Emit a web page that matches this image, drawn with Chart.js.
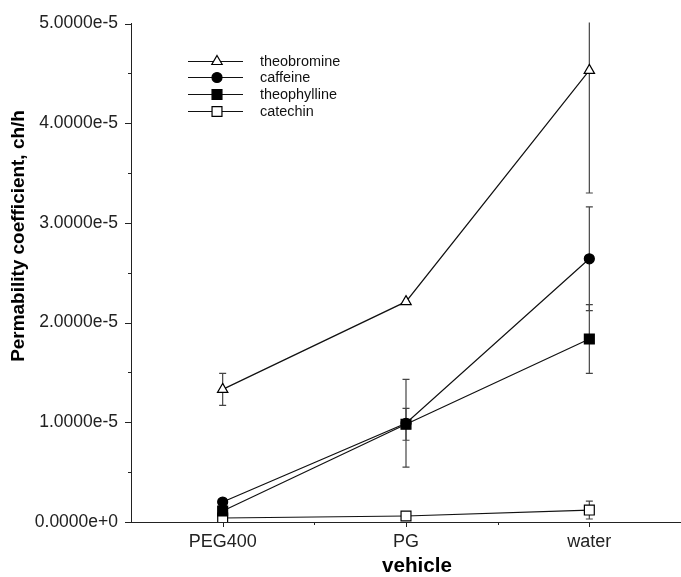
<!DOCTYPE html>
<html>
<head>
<meta charset="utf-8">
<script src="https://cdn.jsdelivr.net/npm/chart.js@4.4.1/dist/chart.umd.min.js"></script>
<style>
  html, body { margin: 0; padding: 0; background: #fff; }
  #wrap { width: 681px; height: 577px; position: relative; }
</style>
</head>
<body>
<div id="wrap"><canvas id="c" width="681" height="577"></canvas></div>
<script>
// ---- data ----
const categories = ['PEG400', 'PG', 'water'];
const theobromine     = [1.33e-5, 2.21e-5, 4.53e-5];
const theobromineErr  = [0.16e-5, 0, 1.23e-5];
const caffeine        = [0.20e-5, 0.99e-5, 2.64e-5];
const caffeineErr     = [0, 0.44e-5, 0.52e-5];
const theophylline    = [0.11e-5, 0.98e-5, 1.835e-5];
const theophyllineErr = [0, 0.16e-5, 0.345e-5];
const catechin        = [0.04e-5, 0.06e-5, 0.12e-5];
const catechinErr     = [0, 0, 0.09e-5];
const yTicks = [0, 1e-5, 2e-5, 3e-5, 4e-5, 5e-5];
const seriesNames = ['theobromine', 'caffeine', 'theophylline', 'catechin'];

const FONT = '"Liberation Sans", Arial, sans-serif';

const styles = [
  { pointStyle: 'triangle', radius: 6, fill: '#fff' },
  { pointStyle: 'circle',   radius: 5, fill: '#000' },
  { pointStyle: 'rect',     radius: 7, fill: '#000' },
  { pointStyle: 'rect',     radius: 7, fill: '#fff' }
];
const values = [theobromine, caffeine, theophylline, catechin];
const errors = [theobromineErr, caffeineErr, theophyllineErr, catechinErr];

const datasets = seriesNames.map((n, i) => ({
  label: n,
  data: values[i],
  borderColor: '#111',
  borderWidth: 1.2,
  pointStyle: styles[i].pointStyle,
  pointRadius: styles[i].radius,
  pointHoverRadius: styles[i].radius,
  pointBackgroundColor: styles[i].fill,
  pointBorderColor: '#000',
  pointBorderWidth: 1.2,
  tension: 0,
  fill: false,
  errors: errors[i]
}));

// pick a font size so that the text spans the width seen in the reference
function fitFont(ctx, text, target, weight) {
  ctx.font = weight + ' 20px ' + FONT;
  const w = ctx.measureText(text).width;
  const size = 20 * target / w;
  return weight + ' ' + size.toFixed(2) + 'px ' + FONT;
}

const errorBars = {
  id: 'errorBars',
  beforeDatasetsDraw(chart) {
    const ctx = chart.ctx, x = chart.scales.x, y = chart.scales.y, ca = chart.chartArea;
    ctx.save();
    ctx.beginPath();
    ctx.rect(ca.left, ca.top - 1, ca.right - ca.left, ca.bottom - ca.top + 2);
    ctx.clip();
    ctx.strokeStyle = '#444';
    ctx.lineWidth = 1.2;
    chart.data.datasets.forEach(ds => {
      ds.data.forEach((v, j) => {
        const e = ds.errors[j];
        if (!e) return;
        const px = x.getPixelForValue(j);
        const top = y.getPixelForValue(v + e), bot = y.getPixelForValue(v - e);
        ctx.beginPath();
        ctx.moveTo(px, top); ctx.lineTo(px, bot);
        ctx.moveTo(px - 3.5, top); ctx.lineTo(px + 3.5, top);
        ctx.moveTo(px - 3.5, bot); ctx.lineTo(px + 3.5, bot);
        ctx.stroke();
      });
    });
    ctx.restore();
  }
};

const axesDecor = {
  id: 'axesDecor',
  afterDraw(chart) {
    const ctx = chart.ctx, x = chart.scales.x, y = chart.scales.y, ca = chart.chartArea;
    ctx.save();
    ctx.strokeStyle = '#222';
    ctx.lineWidth = 1;
    ctx.beginPath();
    // y ticks: major and minor
    for (let k = 0; k < yTicks.length; k++) {
      const py = Math.round(y.getPixelForValue(yTicks[k])) + 0.5;
      ctx.moveTo(ca.left - 6, py); ctx.lineTo(ca.left, py);
      if (k < yTicks.length - 1) {
        const pm = Math.round(y.getPixelForValue((yTicks[k] + yTicks[k + 1]) / 2)) + 0.5;
        ctx.moveTo(ca.left - 3, pm); ctx.lineTo(ca.left, pm);
      }
    }
    // x ticks: major at categories, minor between
    for (let j = 0; j < categories.length; j++) {
      const px = Math.round(x.getPixelForValue(j)) + 0.5;
      ctx.moveTo(px, ca.bottom); ctx.lineTo(px, ca.bottom + 5);
      if (j < categories.length - 1) {
        const pm = Math.round(x.getPixelForValue(j + 0.5)) + 0.5;
        ctx.moveTo(pm, ca.bottom); ctx.lineTo(pm, ca.bottom + 3);
      }
    }
    ctx.stroke();

    // axis titles
    ctx.fillStyle = '#000';
    ctx.textAlign = 'center';
    ctx.textBaseline = 'middle';
    ctx.font = fitFont(ctx, 'vehicle', 70, 'bold');
    ctx.fillText('vehicle', 417, 566);
    ctx.save();
    ctx.translate(19, 236);
    ctx.rotate(-Math.PI / 2);
    ctx.font = fitFont(ctx, 'Permability coefficient, ch/h', 252, 'bold');
    ctx.fillText('Permability coefficient, ch/h', 0, 0);
    ctx.restore();

    // legend
    const rows = [61, 77, 94, 111];
    ctx.font = fitFont(ctx, 'theophylline', 77, 'normal');
    ctx.textAlign = 'left';
    ctx.textBaseline = 'middle';
    chart.data.datasets.forEach((ds, i) => {
      const ry = rows[i] + 0.5;
      ctx.strokeStyle = '#111';
      ctx.lineWidth = 1.2;
      ctx.beginPath();
      ctx.moveTo(188, ry); ctx.lineTo(243, ry);
      ctx.stroke();
      ctx.fillStyle = ds.pointBackgroundColor;
      ctx.strokeStyle = '#000';
      Chart.helpers.drawPoint(ctx, { pointStyle: ds.pointStyle, radius: ds.pointRadius, borderWidth: 1.2, rotation: 0 }, 217, ry);
      ctx.fillStyle = '#111';
      ctx.fillText(ds.label, 260, ry + 1);
    });
    ctx.restore();
  }
};

new Chart(document.getElementById('c'), {
  type: 'line',
  data: { labels: categories, datasets },
  options: {
    responsive: false,
    animation: false,
    events: [],
    layout: { autoPadding: false, padding: { top: 22, right: 0, left: 0, bottom: 0 } },
    plugins: { legend: { display: false }, tooltip: { enabled: false }, title: { display: false } },
    scales: {
      x: {
        type: 'category',
        offset: true,
        grid: { color: 'transparent', drawTicks: false },
        border: { display: true, color: '#222', width: 1 },
        ticks: { color: '#222', font: { family: FONT, size: 18 }, padding: 9, maxRotation: 0 },
        afterFit(s) { s.height = 55; s.paddingLeft = 0; s.paddingRight = 0; }
      },
      y: {
        type: 'linear',
        min: 0,
        max: 5e-5,
        grid: { color: 'transparent', drawTicks: false },
        border: { display: true, color: '#222', width: 1 },
        ticks: {
          stepSize: 1e-5,
          color: '#222',
          padding: 13,
          font: { family: FONT, size: 17.5 },
          callback: v => Number(v).toExponential(4)
        },
        afterFit(s) { s.width = 131; }
      }
    }
  },
  plugins: [errorBars, axesDecor]
});
</script>
</body>
</html>
